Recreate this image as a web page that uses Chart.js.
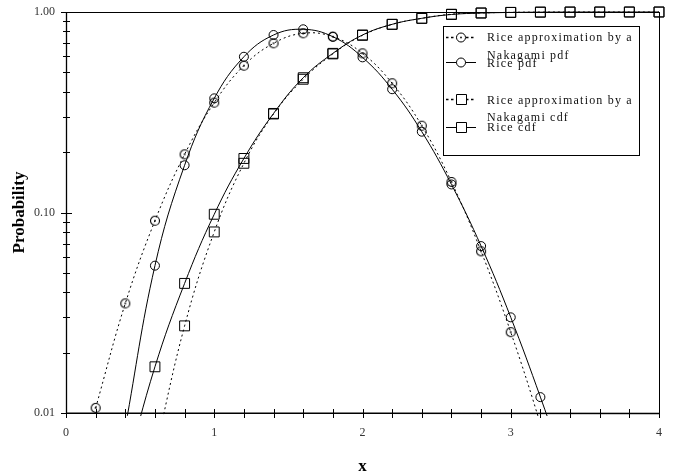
<!DOCTYPE html>
<html>
<head>
<meta charset="utf-8">
<script src="https://cdn.jsdelivr.net/npm/chart.js@4/dist/chart.umd.min.js"></script>
<style>
  html, body { margin: 0; padding: 0; background: #fff; }
  #wrap { width: 673px; height: 473px; }
</style>
</head>
<body>
<div id="wrap"><canvas id="myChart" width="673" height="473"></canvas></div>
<script>
// ---------- data ----------
var xVals      = [0.2, 0.4, 0.6, 0.8, 1.0, 1.2, 1.4, 1.6, 1.8, 2.0, 2.2, 2.4, 2.6, 2.8, 3.0, 3.2, 3.4, 3.6, 3.8, 4.0];
var nakaPdf    = [0.0106, 0.0352, 0.091, 0.195, 0.353, 0.54, 0.698, 0.783, 0.753, 0.622, 0.441, 0.271, 0.142, 0.064, 0.0253, 0.0088, 0.0027, null, null, null];
var ricePdf    = [null, 0.0085, 0.0543, 0.172, 0.371, 0.598, 0.768, 0.82, 0.753, 0.594, 0.412, 0.253, 0.138, 0.068, 0.030, 0.012, 0.0045, null, null, null];
var nakaCdf    = [null, null, 0.0063, 0.0272, 0.080, 0.176, 0.31, 0.462, 0.618, 0.765, 0.868, 0.93, 0.975, 0.989, 0.996, 0.999, 1.0, 1.0, 1.0, 1.0];
var riceCdf    = [null, 0.005, 0.017, 0.0443, 0.098, 0.186, 0.312, 0.47, 0.622, 0.768, 0.868, 0.93, 0.972, 0.988, 0.995, 0.998, 0.999, 1.0, 1.0, 1.0];

var xTickVals   = [0, 1, 2, 3, 4];
var yTickVals   = [0.01, 0.1, 1];
var yTickLabels = ['0.01', '0.10', '1.00'];

var legendLines = [
  ['Rice approximation by a', 'Nakagami pdf'],
  ['Rice pdf'],
  ['Rice approximation by a', 'Nakagami cdf'],
  ['Rice cdf']
];

var serif = '"Liberation Serif", "DejaVu Serif", serif';

// ---------- helpers ----------
function toPoints(ys) {            // pair x values with one series
  var pts = [];
  for (var i = 0; i < xVals.length; i++) {
    if (ys[i] !== null) pts.push({x: xVals[i], y: ys[i]});
  }
  return pts;
}

function dottedCircle() {          // hollow circle with a dot in the middle
  var c = document.createElement('canvas');
  c.width = 14; c.height = 14;
  var g = c.getContext('2d');
  g.strokeStyle = '#000';
  g.lineWidth = 1.1;
  g.beginPath();
  g.arc(7, 7, 4.5, 0, Math.PI * 2);
  g.stroke();
  g.fillStyle = '#000';
  g.fillRect(6.2, 6.2, 1.6, 1.6);
  return c;
}
var dotCircle = dottedCircle();

var clipBox = {left: 0, top: 8, right: 8, bottom: 3};

// ---------- frame, ticks and legend ----------
var framePlugin = {
  id: 'frame',
  afterDraw: function(chart) {
    var ctx = chart.ctx;
    var a = chart.chartArea;
    var xs = chart.scales.x, ys = chart.scales.y;
    ctx.save();
    ctx.strokeStyle = '#000';
    ctx.lineWidth = 1;
    ctx.strokeRect(Math.round(a.left) + 0.5, Math.round(a.top) + 0.5,
                   Math.round(a.right - a.left), Math.round(a.bottom - a.top));
    ctx.lineWidth = 1.3;
    ctx.beginPath();
    ctx.moveTo(Math.round(a.left) + 0.5, a.top);
    ctx.lineTo(Math.round(a.left) + 0.5, a.bottom);
    ctx.lineTo(a.right, Math.round(a.bottom) + 0.5);
    ctx.stroke();

    // x ticks every 0.2, crossing the axis
    ctx.lineWidth = 1;
    ctx.beginPath();
    for (var i = 0; i <= 20; i++) {
      var px = Math.round(xs.getPixelForValue(i / 5)) + 0.5;
      ctx.moveTo(px, a.bottom - 4);
      ctx.lineTo(px, a.bottom + 5);
    }
    // y ticks: majors plus 2..9 in every decade
    for (var d = 0; d < yTickVals.length; d++) {
      var py = Math.round(ys.getPixelForValue(yTickVals[d])) + 0.5;
      ctx.moveTo(a.left - 5, py);
      ctx.lineTo(a.left + 6, py);
      if (d < yTickVals.length - 1) {
        for (var m = 2; m <= 9; m++) {
          var pm = Math.round(ys.getPixelForValue(yTickVals[d] * m)) + 0.5;
          ctx.moveTo(a.left - 3, pm);
          ctx.lineTo(a.left + 4, pm);
        }
      }
    }
    ctx.stroke();

    // legend box
    var bx = 443, by = 26, bw = 196, bh = 129;
    ctx.fillStyle = '#fff';
    ctx.fillRect(bx, by, bw, bh);
    ctx.strokeRect(bx + 0.5, by + 0.5, bw, bh);

    var rows = [37, 62, 99, 127];
    var baselines = [[41, 58.5], [66.5], [103.5, 121], [131]];
    for (var k = 0; k < 4; k++) {
      var y = rows[k];
      ctx.save();
      ctx.strokeStyle = '#000';
      ctx.lineWidth = (k % 2 === 0) ? 1.6 : 1;
      ctx.setLineDash((k % 2 === 0) ? [2.5, 2.5] : []);
      ctx.beginPath();
      ctx.moveTo(446, y + 0.5);
      ctx.lineTo(476, y + 0.5);
      ctx.stroke();
      ctx.setLineDash([]);
      ctx.lineWidth = 1;
      ctx.fillStyle = '#fff';
      ctx.beginPath();
      if (k < 2) {
        ctx.arc(461, y + 0.5, 4.5, 0, Math.PI * 2);
        ctx.fill(); ctx.stroke();
        if (k === 0) { ctx.fillStyle = '#000'; ctx.fillRect(460.2, y - 0.3, 1.6, 1.6); }
      } else {
        ctx.rect(456.5, y - 4.5, 10, 10);
        ctx.fill(); ctx.stroke();
      }
      ctx.restore();

      ctx.fillStyle = '#111';
      ctx.font = '12px ' + serif;
      ctx.letterSpacing = '1.2px';
      ctx.textBaseline = 'alphabetic';
      ctx.textAlign = 'left';
      for (var t = 0; t < legendLines[k].length; t++) {
        ctx.fillText(legendLines[k][t], 487, baselines[k][t]);
      }
    }
    ctx.restore();
  }
};

// ---------- chart ----------
var chartDiv = document.getElementById('myChart').getContext('2d');
var chart = new Chart(chartDiv, {
  type: 'line',
  data: {
    datasets: [
      {
        label: 'Rice approximation by a Nakagami pdf',
        data: toPoints(nakaPdf),
        borderColor: '#000', borderWidth: 1, borderDash: [2, 3],
        pointStyle: dotCircle, pointRadius: 5,
        backgroundColor: 'transparent', tension: 0.4, clip: clipBox
      },
      {
        label: 'Rice pdf',
        data: toPoints(ricePdf),
        borderColor: '#000', borderWidth: 1,
        pointStyle: 'circle', pointRadius: 4.5, pointBorderWidth: 1,
        pointBackgroundColor: 'transparent', pointBorderColor: '#000',
        backgroundColor: 'transparent', tension: 0.4, clip: clipBox
      },
      {
        label: 'Rice approximation by a Nakagami cdf',
        data: toPoints(nakaCdf),
        borderColor: '#000', borderWidth: 1, borderDash: [2, 3],
        pointStyle: 'rect', pointRadius: 7, pointBorderWidth: 1,
        pointBackgroundColor: 'transparent', pointBorderColor: '#000',
        backgroundColor: 'transparent', tension: 0.4, clip: clipBox
      },
      {
        label: 'Rice cdf',
        data: toPoints(riceCdf),
        borderColor: '#000', borderWidth: 1,
        pointStyle: 'rect', pointRadius: 7, pointBorderWidth: 1,
        pointBackgroundColor: 'transparent', pointBorderColor: '#000',
        backgroundColor: 'transparent', tension: 0.4, clip: clipBox
      }
    ]
  },
  options: {
    responsive: false,
    animation: false,
    layout: { padding: { top: 12, right: 14, left: 0, bottom: 0 } },
    plugins: { legend: { display: false }, tooltip: { enabled: false } },
    scales: {
      x: {
        type: 'linear', min: 0, max: 4,
        grid: { display: false, drawTicks: false },
        border: { display: false },
        afterBuildTicks: function(scale) { scale.ticks = xTickVals.map(function(v){ return {value: v}; }); },
        afterFit: function(scale) { scale.height = 60; scale.paddingLeft = 0; scale.paddingRight = 0; },
        ticks: {
          padding: 13, color: '#333',
          font: { family: serif, size: 12 },
          callback: function(v) { return String(v); }
        },
        title: {
          display: true, text: 'x', color: '#000',
          font: { family: serif, size: 17, weight: 'bold', lineHeight: 0.8 },
          padding: 0
        }
      },
      y: {
        type: 'logarithmic', min: 0.01, max: 1,
        grid: { display: false, drawTicks: false },
        border: { display: false },
        afterBuildTicks: function(scale) { scale.ticks = yTickVals.map(function(v){ return {value: v}; }); },
        afterFit: function(scale) { scale.width = 66; scale.paddingTop = 0; scale.paddingBottom = 0; },
        ticks: {
          padding: 11, color: '#333',
          font: { family: serif, size: 12 },
          callback: function(v) {
            var i = yTickVals.indexOf(v);
            return i >= 0 ? yTickLabels[i] : '';
          }
        },
        title: {
          display: true, text: 'Probability', color: '#000',
          font: { family: serif, size: 17, weight: 'bold', lineHeight: 1.1 },
          padding: 10
        }
      }
    }
  },
  plugins: [framePlugin]
});
</script>
</body>
</html>
